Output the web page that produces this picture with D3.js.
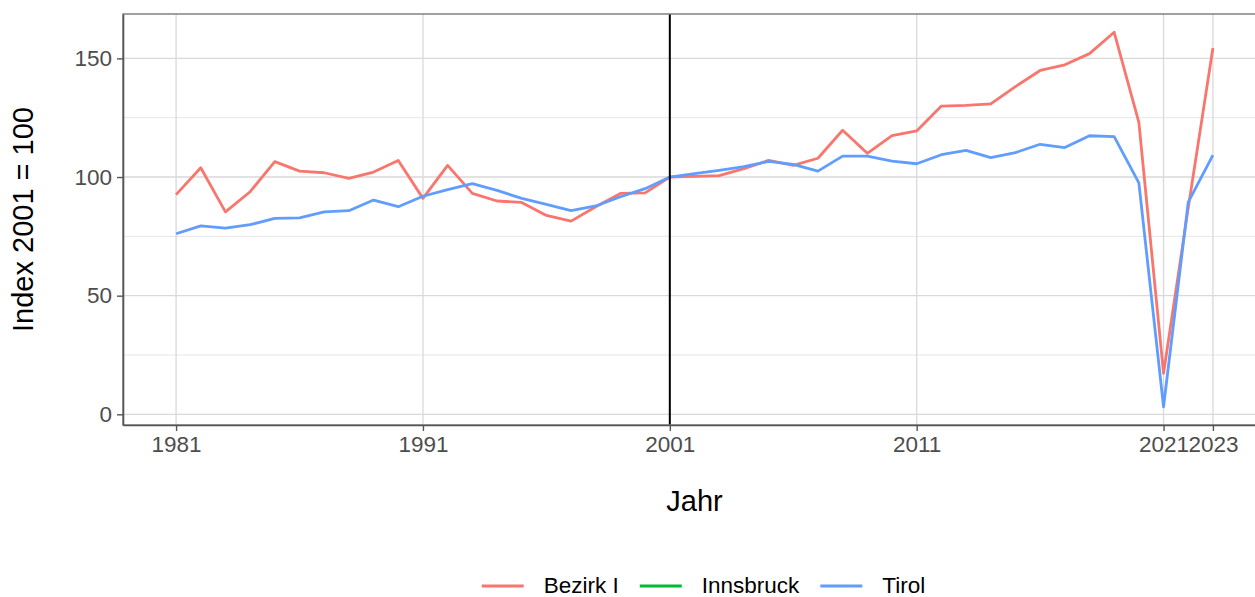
<!DOCTYPE html>
<html>
<head>
<meta charset="utf-8">
<script src="https://cdn.jsdelivr.net/npm/d3@7"></script>
<style>
  body { margin: 0; background: #fff; }
  svg { display: block; font-family: "Liberation Sans", Arial, sans-serif; }
</style>
</head>
<body>
<div class="chart"></div>
<script>
// chart data
var years = [1981, 1982, 1983, 1984, 1985, 1986, 1987, 1988, 1989, 1990,
             1991, 1992, 1993, 1994, 1995, 1996, 1997, 1998, 1999, 2000,
             2001, 2002, 2003, 2004, 2005, 2006, 2007, 2008, 2009, 2010,
             2011, 2012, 2013, 2014, 2015, 2016, 2017, 2018, 2019, 2020,
             2021, 2022, 2023];
var bezirkValues = [92.6, 103.9, 85.3, 93.8, 106.5, 102.5, 101.8, 99.4, 102.1, 107.0,
                    91.0, 104.9, 93.1, 89.9, 89.3, 83.8, 81.4, 87.5, 93.1, 93.3,
                    100, 100.3, 100.6, 103.5, 107.0, 104.9, 107.9, 119.7, 110.0, 117.4,
                    119.4, 129.9, 130.2, 130.8, 138.1, 144.9, 147.3, 152.0, 161.0, 123.0,
                    17.3, 87.0, 154.4];
var innsbruckValues = [];   // no values for Innsbruck, only shown in the legend
var tirolValues = [76.1, 79.4, 78.5, 79.9, 82.6, 82.8, 85.3, 85.8, 90.3, 87.5,
                   91.9, 94.7, 97.2, 94.4, 91.0, 88.5, 85.8, 87.8, 91.7, 95.1,
                   100, 101.4, 102.8, 104.4, 106.6, 105.3, 102.5, 108.8, 108.8, 106.7,
                   105.6, 109.4, 111.2, 108.2, 110.3, 113.8, 112.4, 117.4, 117.0, 97.5,
                   3.2, 89.4, 109.2];
var seriesNames = ["Bezirk I", "Innsbruck", "Tirol"];
var seriesColors = ["#F8766D", "#00BA38", "#619CFF"];
var xTicks = [1981, 1991, 2001, 2011, 2021, 2023];
var yTicks = [0, 50, 100, 150];
var yMinorTicks = [25, 75, 125];
var markYear = 2001;

var width = 1255, height = 597;
var panel = {left: 123, top: 14, right: 1266, bottom: 425};

var svg = d3.select(".chart").append("svg").attr("width", width).attr("height", height);

var x = d3.scaleLinear().domain([1978.85, 2025.15]).range([panel.left, panel.right]);
var y = d3.scaleLinear().domain([-4.5, 168.7]).range([panel.bottom, panel.top]);

// grid
var grid = svg.append("g");
grid.selectAll(".minor").data(yMinorTicks).enter().append("line")
    .attr("x1", panel.left).attr("x2", panel.right)
    .attr("y1", function (d) { return y(d); }).attr("y2", function (d) { return y(d); })
    .attr("stroke", "#e3e3e3").attr("stroke-width", 0.9);
grid.selectAll(".majorY").data(yTicks).enter().append("line")
    .attr("x1", panel.left).attr("x2", panel.right)
    .attr("y1", function (d) { return y(d); }).attr("y2", function (d) { return y(d); })
    .attr("stroke", "#d9d9d9").attr("stroke-width", 1.3);
grid.selectAll(".majorX").data(xTicks).enter().append("line")
    .attr("y1", panel.top).attr("y2", panel.bottom)
    .attr("x1", function (d) { return x(d); }).attr("x2", function (d) { return x(d); })
    .attr("stroke", "#d9d9d9").attr("stroke-width", 1.3);

// lines
var series = [bezirkValues, innsbruckValues, tirolValues];
var line = d3.line()
    .defined(function (d) { return d != null; })
    .x(function (d, i) { return x(years[i]); })
    .y(function (d) { return y(d); });
series.forEach(function (values, k) {
    if (values.length == 0) return;
    svg.append("path").datum(values)
        .attr("d", line)
        .attr("fill", "none")
        .attr("stroke", seriesColors[k])
        .attr("stroke-width", 2.8)
        .attr("stroke-linejoin", "round");
});

// reference year
svg.append("line")
    .attr("x1", x(markYear)).attr("x2", x(markYear))
    .attr("y1", panel.top).attr("y2", panel.bottom)
    .attr("stroke", "#000").attr("stroke-width", 2);

// panel border
svg.append("rect")
    .attr("x", panel.left).attr("y", panel.top)
    .attr("width", panel.right - panel.left).attr("height", panel.bottom - panel.top)
    .attr("fill", "none").attr("stroke", "#7a7a7a").attr("stroke-width", 1.4);

// axes
var yAxis = svg.append("g").attr("transform", "translate(" + panel.left + ",0)")
    .call(d3.axisLeft(y).tickValues(yTicks).tickSizeInner(6).tickSizeOuter(0).tickPadding(5).tickFormat(d3.format("d")));
var xAxis = svg.append("g").attr("transform", "translate(0," + panel.bottom + ")")
    .call(d3.axisBottom(x).tickValues(xTicks).tickSizeInner(6).tickSizeOuter(0).tickPadding(5).tickFormat(d3.format("d")));
[xAxis, yAxis].forEach(function (ax) {
    ax.select(".domain").attr("stroke", "#555").attr("stroke-width", 1.6);
    ax.selectAll(".tick line").attr("stroke", "#555").attr("stroke-width", 1.4);
    ax.selectAll(".tick text").attr("fill", "#4d4d4d")
        .style("font-size", "22.5px").style("font-family", "Liberation Sans, Arial, sans-serif");
});

// axis titles
svg.append("text").attr("x", (panel.left + panel.right) / 2).attr("y", 511)
    .attr("text-anchor", "middle").style("font-size", "29px").attr("fill", "#000")
    .text("Jahr");
svg.append("text")
    .attr("transform", "translate(33," + ((panel.top + panel.bottom) / 2) + ") rotate(-90)")
    .attr("text-anchor", "middle").style("font-size", "29px").attr("fill", "#000")
    .text("Index 2001 = 100");

// legend
var legend = svg.append("g");
var keyW = 42, keyGap = 20, itemGap = 21;
var pos = 0;
seriesNames.forEach(function (name, k) {
    var g = legend.append("g");
    g.append("line").attr("x1", 0).attr("x2", keyW).attr("y1", 0).attr("y2", 0)
        .attr("stroke", seriesColors[k]).attr("stroke-width", 2.8);
    var t = g.append("text").attr("x", keyW + keyGap).attr("y", 7)
        .style("font-size", "22.5px").attr("fill", "#000").text(name);
    var w = t.node().getComputedTextLength();
    g.attr("transform", "translate(" + pos + ",0)");
    pos += keyW + keyGap + w + itemGap;
});
var legendWidth = pos - itemGap;
legend.attr("transform", "translate(" + (703.5 - legendWidth / 2) + ",586)");
</script>
</body>
</html>
